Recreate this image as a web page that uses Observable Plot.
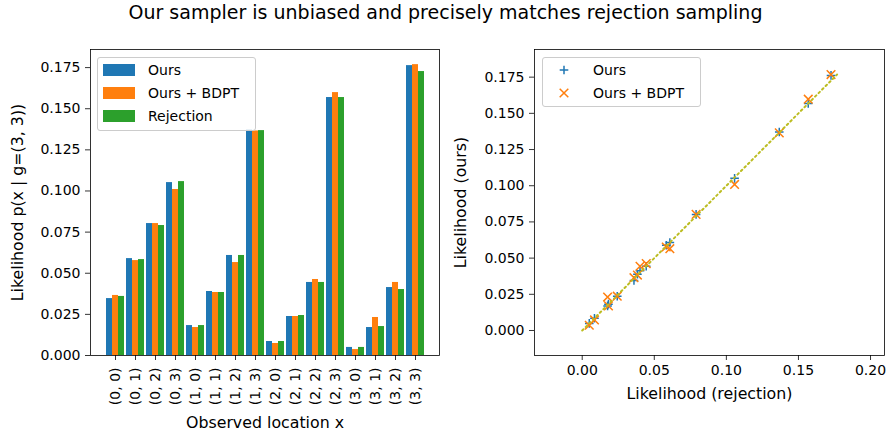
<!DOCTYPE html>
<html><head><meta charset="utf-8">
<script src="https://cdn.jsdelivr.net/npm/d3@7"></script>
<script src="https://cdn.jsdelivr.net/npm/@observablehq/plot@0.6"></script>
<style>
body{margin:0;background:#fff;font-family:"DejaVu Sans",sans-serif;}
#wrap{position:relative;width:891px;height:435px;overflow:hidden;background:#fff;}
#title{position:absolute;left:0;top:1px;width:891px;text-align:center;font-size:19px;line-height:22px;color:#000;}
#left{position:absolute;left:0;top:28px;}
#right{position:absolute;left:450px;top:28px;}
.legend{position:absolute;border:1px solid #cccccc;border-radius:3px;background:rgba(255,255,255,0.8);box-sizing:border-box;}
.lt{position:absolute;font-size:14px;line-height:16px;color:#000;white-space:nowrap;}
.patch{position:absolute;}
</style></head><body>
<div id="wrap">
<div id="title">Our sampler is unbiased and precisely matches rejection sampling</div>
<div id="left"></div>
<div id="right"></div>
</div>
<script>
const locations = ["(0, 0)","(0, 1)","(0, 2)","(0, 3)","(1, 0)","(1, 1)","(1, 2)","(1, 3)",
                   "(2, 0)","(2, 1)","(2, 2)","(2, 3)","(3, 0)","(3, 1)","(3, 2)","(3, 3)"];
const ours      = [0.0346,0.0589,0.0802,0.1051,0.0182,0.0389,0.0608,0.1371,0.0085,0.0237,0.0444,0.1568,0.0049,0.0170,0.0413,0.1762];
const oursBDPT  = [0.0365,0.0577,0.0802,0.1009,0.0170,0.0383,0.0565,0.1365,0.0073,0.0237,0.0462,0.1598,0.0036,0.0231,0.0444,0.1768];
const rejection = [0.0359,0.0583,0.0790,0.1057,0.0182,0.0383,0.0608,0.1367,0.0085,0.0243,0.0444,0.1568,0.0049,0.0176,0.0401,0.1726];
const seriesNames = ["Ours","Ours + BDPT","Rejection"];
const seriesColors = ["#1f77b4","#ff7f0e","#2ca02c"];
const lineColor = "#bcbd22";
const yTicks = [0,0.025,0.05,0.075,0.1,0.125,0.15,0.175];
const xTicksRight = [0,0.05,0.1,0.15,0.2];

const font = {fontFamily:"DejaVu Sans", fontSize:"14px", color:"black", background:"white", overflow:"visible"};

const barData = locations.map((loc,i)=>({loc, ours:ours[i], bdpt:oursBDPT[i], rej:rejection[i]}));
const left = Plot.plot({
  width:450, height:407,
  marginLeft:90, marginRight:11, marginTop:21, marginBottom:80,
  style:font,
  x:{type:"band", domain:locations, paddingInner:0.1, paddingOuter:0.775, align:0.5, label:null},
  y:{domain:[0,0.186], label:null},
  marks:[
    Plot.barY(barData,{x:"loc", y:"ours", fill:seriesColors[0], insetLeft:0, insetRight:12}),
    Plot.barY(barData,{x:"loc", y:"bdpt", fill:seriesColors[1], insetLeft:6, insetRight:6}),
    Plot.barY(barData,{x:"loc", y:"rej", fill:seriesColors[2], insetLeft:12, insetRight:0}),
    Plot.axisX({tickRotate:-90, tickSize:5, tickPadding:7, strokeWidth:0.8, label:null}),
    Plot.axisX({ticks:[], tickSize:0, fontSize:15.8,
      label:"Observed location x", labelAnchor:"center", labelOffset:72, labelArrow:"none"}),
    Plot.axisY({ticks:yTicks, tickFormat:d3.format(".3f"), tickSize:5, tickPadding:5, strokeWidth:0.8, label:null}),
    Plot.axisY({ticks:[], tickSize:0, fontSize:15.8,
      label:"Likelihood p(x | g=(3, 3))", labelAnchor:"center", labelOffset:79, labelArrow:"none"}),
    Plot.frame({stroke:"black", strokeWidth:0.8})
  ]
});
document.getElementById("left").appendChild(left);

const plusSym = {draw(ctx,size){const r=Math.sqrt(size/Math.PI);ctx.moveTo(-r,0);ctx.lineTo(r,0);ctx.moveTo(0,-r);ctx.lineTo(0,r);}};
const timesSym = {draw(ctx,size){const r=Math.sqrt(size/Math.PI);ctx.moveTo(-r,-r);ctx.lineTo(r,r);ctx.moveTo(-r,r);ctx.lineTo(r,-r);}};
const scatter = locations.map((loc,i)=>({rej:rejection[i], ours:ours[i], bdpt:oursBDPT[i]}));
const diag = [0, d3.max([...ours,...oursBDPT,...rejection])];
const right = Plot.plot({
  width:441, height:407,
  marginLeft:84, marginRight:7, marginTop:21, marginBottom:80,
  style:font,
  x:{domain:[-0.0331,0.2097], label:null},
  y:{domain:[-0.01727,0.1941], label:null},
  marks:[
    Plot.dot(scatter,{x:"rej", y:"ours", symbol:plusSym, r:4.3, stroke:seriesColors[0], fill:"none", strokeWidth:1.5}),
    Plot.dot(scatter,{x:"rej", y:"bdpt", symbol:timesSym, r:4.3, stroke:seriesColors[1], fill:"none", strokeWidth:1.5}),
    Plot.line(diag,{x:d=>d, y:d=>d, stroke:lineColor, strokeWidth:2, strokeDasharray:"1.8,3.2"}),
    Plot.axisX({ticks:xTicksRight, tickFormat:d3.format(".2f"), tickSize:5, tickPadding:5, strokeWidth:0.8, label:null}),
    Plot.axisX({ticks:[], tickSize:0, fontSize:15.8,
      label:"Likelihood (rejection)", labelAnchor:"center", labelOffset:43, labelArrow:"none"}),
    Plot.axisY({ticks:yTicks, tickFormat:d3.format(".3f"), tickSize:5, tickPadding:5, strokeWidth:0.8, label:null}),
    Plot.axisY({ticks:[], tickSize:0, fontSize:15.8,
      label:"Likelihood (ours)", labelAnchor:"center", labelOffset:80, labelArrow:"none"}),
    Plot.frame({stroke:"black", strokeWidth:0.8})
  ]
});
document.getElementById("right").appendChild(right);

// legends
const wrap = document.getElementById("wrap");
function box(l,t,w,h){const d=document.createElement("div");d.className="legend";Object.assign(d.style,{left:l+"px",top:t+"px",width:w+"px",height:h+"px"});wrap.appendChild(d);}
function label(txt,l,cy){const s=document.createElement("div");s.className="lt";s.textContent=txt;Object.assign(s.style,{left:l+"px",top:(cy-8)+"px"});wrap.appendChild(s);}
box(97,57,159,74);
seriesNames.forEach((name,i)=>{
  const cy = 70 + i*23;
  const p=document.createElement("div");p.className="patch";
  Object.assign(p.style,{left:"103px",top:(cy-6)+"px",width:"32px",height:"12px",background:seriesColors[i]});
  wrap.appendChild(p);
  label(name,148,cy);
});
box(542,57,159,50);
const ns="http://www.w3.org/2000/svg";
[[seriesNames[0],plusSym],[seriesNames[1],timesSym]].forEach(([name,sym],i)=>{
  const cy = 70 + i*23;
  const svg=document.createElementNS(ns,"svg");
  svg.setAttribute("width","14");svg.setAttribute("height","14");
  svg.style.position="absolute";svg.style.left=(564-7)+"px";svg.style.top=(cy-7)+"px";
  const path=document.createElementNS(ns,"path");
  path.setAttribute("d",d3.symbol(sym, 4.3*4.3*Math.PI)());
  path.setAttribute("transform","translate(7,7)");
  path.setAttribute("stroke",seriesColors[i]);path.setAttribute("stroke-width","1.5");path.setAttribute("fill","none");
  svg.appendChild(path);wrap.appendChild(svg);
  label(name,593,cy);
});
</script>
</body></html>
